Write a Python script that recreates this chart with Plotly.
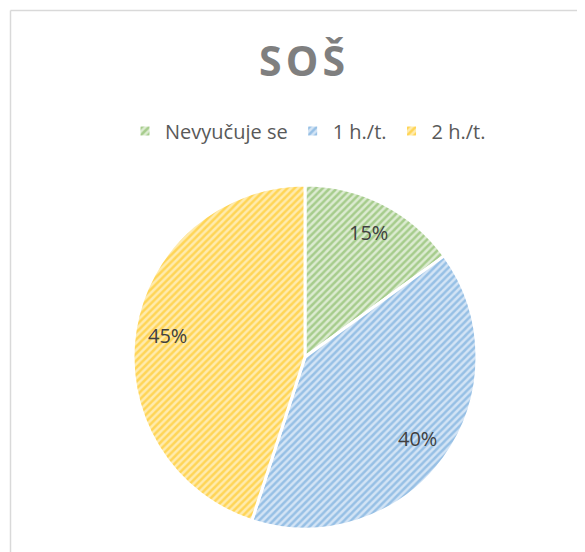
import math
import plotly.graph_objects as go

categories = ["Nevyučuje se", "1 h./t.", "2 h./t."]
values = [15, 40, 45]
title_text = "SOŠ"

W, H = 585, 552
OFF = 8  # page body margin
fg_colors = ["#70ad47", "#5b9bd5", "#ffc000"]
bg_colors = ["#dcebd1", "#d3e4f5", "#ffebae"]

# pie geometry (page pixels)
CX, CY, R = 305 - OFF, 357 - OFF, 172
dom_x = [(CX - R) / W, (CX + R) / W]
dom_y = [(H - CY - R) / H, (H - CY + R) / H]

fig = go.Figure(go.Pie(
    labels=categories,
    values=values,
    sort=False,
    direction="clockwise",
    rotation=0,
    textinfo="none",
    marker=dict(
        colors=bg_colors,
        line=dict(color="white", width=3),
        pattern=dict(shape="/", fgcolor=fg_colors, bgcolor=bg_colors, size=5, solidity=0.5, fillmode="overlay"),
    ),
    domain=dict(x=dom_x, y=dom_y),
    hoverinfo="skip",
))

# data labels placed along each slice's mid-angle
total = sum(values)
cum = 0
annotations = []
for v in values:
    mid = (cum + v / 2) / total * 2 * math.pi
    cum += v
    r = 0.81 * R
    px = CX + r * math.sin(mid)
    py = CY - r * math.cos(mid)
    annotations.append(dict(
        x=px / W, y=1 - py / H, xref="paper", yref="paper",
        text=f"{round(v / total * 100)}%", showarrow=False,
        font=dict(family="Open Sans, sans-serif", size=20, color="#404040"),
        xanchor="center", yanchor="middle",
    ))

fig.update_layout(
    width=W, height=H,
    margin=dict(l=0, r=0, t=0, b=0),
    paper_bgcolor="white",
    plot_bgcolor="white",
    title=dict(text="<b>" + "\u200a".join(title_text) + "</b>", x=(302 - OFF) / W, xanchor="center",
               y=1 - (62 - OFF) / H, yanchor="middle",
               font=dict(family="Open Sans, sans-serif", size=41, color="#7f7f7f")),
    legend=dict(orientation="h", x=(308 - OFF) / W, xanchor="center", y=1 - (131 - OFF) / H, yanchor="middle",
                font=dict(family="Open Sans, sans-serif", size=20, color="#595959"),
                itemwidth=30, traceorder="normal"),
    annotations=annotations,
    shapes=[
        dict(type="line", xref="paper", yref="paper", x0=(10.5 - OFF) / W, x1=1,
             y0=1 - (10.5 - OFF) / H, y1=1 - (10.5 - OFF) / H,
             line=dict(color="#d9d9d9", width=1.5)),
        dict(type="line", xref="paper", yref="paper", x0=(10.5 - OFF) / W, x1=(10.5 - OFF) / W,
             y0=0, y1=1 - (10.5 - OFF) / H,
             line=dict(color="#d9d9d9", width=1.5)),
    ],
)

fig.write_html("out.html")
